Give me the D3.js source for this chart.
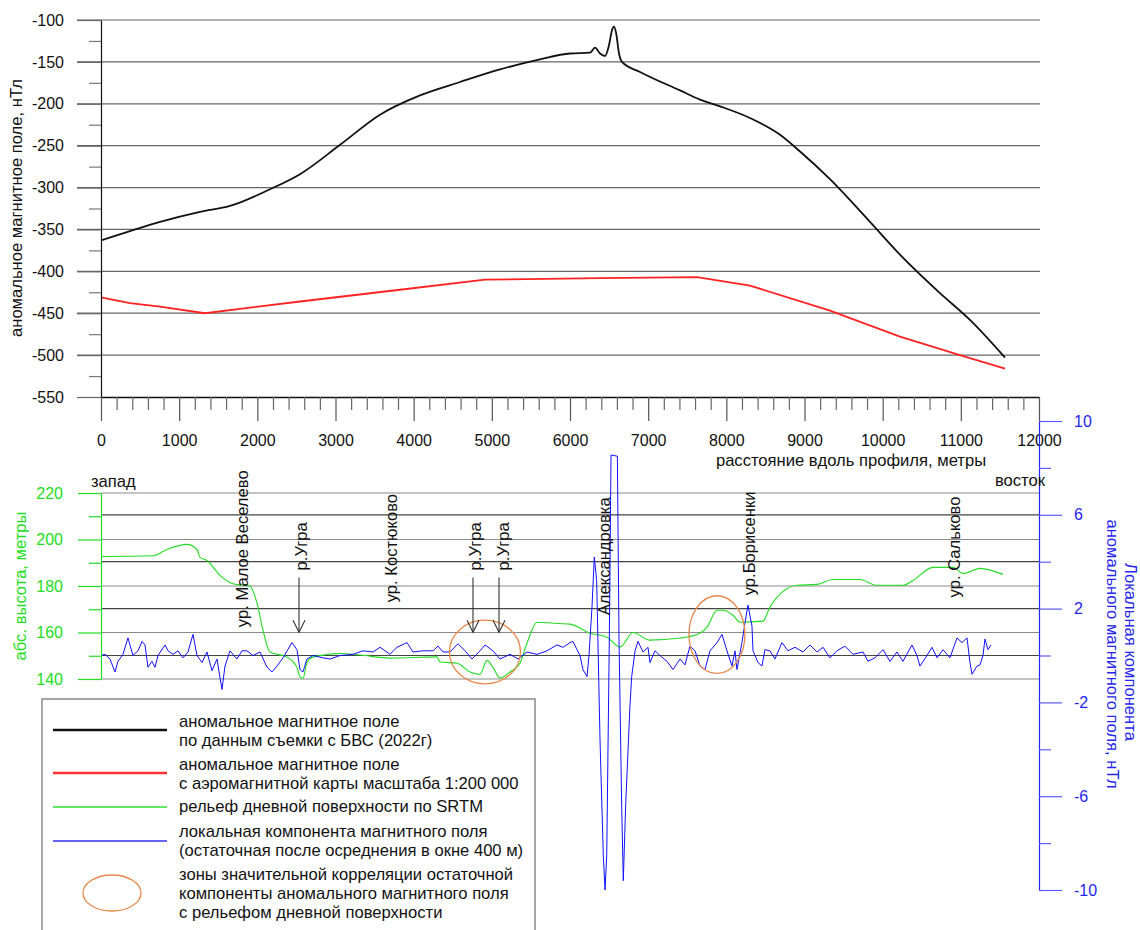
<!DOCTYPE html>
<html>
<head>
<meta charset="utf-8">
<script src="https://cdn.jsdelivr.net/npm/d3@7"></script>
<style>
  body { margin: 0; background: #fff; }
  svg { display: block; font-family: "Liberation Sans", Arial, sans-serif; }
</style>
</head>
<body>
<svg id="chart" width="1140" height="930"></svg>
<script>
// ---- data (distance along profile, m) ----
// anomalous magnetic field from UAV survey, nT
const uavField = [[0,-363],[371,-352],[755,-341],[1267,-329],[1650,-322],[2162,-302],[2546,-284],
  [3058,-249],[3569,-213],[4081,-190],[4593,-174],[5104,-159],[5616,-147],[6000,-140],[6256,-139],
  [6320,-133],[6384,-140],[6448,-143],[6499,-130],[6538,-112],[6563,-108],[6589,-115],[6627,-140],
  [6665,-150],[6896,-162],[7407,-184],[7663,-195],[7919,-203],[8303,-217],[8687,-237],[8943,-257],
  [9326,-290],[9838,-341],[10221,-380],[10733,-426],[11117,-458],[11565,-503]];

// anomalous field from 1:200 000 aeromagnetic map, nT
const mapField = [[0,-431],[371,-438],[755,-442],[1330,-450],[2546,-436],[3825,-422],[4913,-410],
  [6384,-408],[7625,-407],[8303,-417],[9326,-447],[10221,-478],[10989,-500],[11565,-516]];

// SRTM relief, m
const relief = [[0,192.7],[665,193],[844,195.7],[1100,197.9],[1228,195.7],[1267,192.3],[1356,191],
  [1522,184.6],[1689,181],[1906,180],[1996,172.6],[2072,161],[2162,151.6],[2380,149.4],[2507,145],
  [2546,141],[2584,140.2],[2635,147],[2712,149.4],[3058,151],[3314,150.3],[3697,149],[4298,149.5],
  [4337,147.3],[4554,146.8],[4721,143],[4849,142],[4938,148],[5015,145],[5104,140.4],[5232,143],
  [5360,146.8],[5450,155.4],[5578,164.4],[5783,164],[6000,163.6],[6256,159.7],[6473,158],[6640,153.7],
  [6806,160],[7023,156.7],[7407,157.6],[7663,159.7],[7753,162.3],[7881,169.6],[7957,169.6],
  [8085,167.4],[8175,164.4],[8469,164.9],[8558,170.9],[8904,180.3],[9160,180.7],[9365,182.8],
  [9710,182.8],[9927,180.3],[10260,180.3],[10388,182.4],[10644,188],[10900,188],[11028,185.4],
  [11245,187.6],[11539,185]];

// local (residual) component, nT
const localField = [[0,0.0],[51,0.05],[115,-0.15],[179,-0.7],[217,-0.25],[281,0.05],[345,0.75],
  [409,0.0],[473,0.2],[525,0.6],[563,0.45],[601,-0.5],[652,-0.25],[691,-0.5],[729,0.0],[819,0.45],
  [857,0.2],[921,0.05],[985,0.2],[1049,-0.1],[1113,0.15],[1177,0.9],[1228,0.0],[1292,-0.3],
  [1356,0.15],[1420,-0.65],[1484,-0.15],[1510,-0.7],[1548,-1.45],[1586,-0.45],[1650,0.2],
  [1740,-0.15],[1804,0.2],[1868,0.2],[1945,0.0],[2034,0.15],[2124,-0.5],[2188,-0.7],[2252,-0.45],
  [2328,-0.1],[2443,0.55],[2507,0.25],[2546,-0.6],[2584,-0.7],[2635,-0.15],[2712,0.0],[2840,-0.1],
  [2930,-0.15],[3058,0.0],[3224,0.05],[3352,0.2],[3480,0.15],[3569,0.35],[3697,0.05],[3787,0.35],
  [3915,0.55],[3991,0.15],[4119,0.2],[4247,0.2],[4311,0.4],[4375,0.15],[4465,0.15],[4567,0.5],
  [4657,0.2],[4746,-0.15],[4849,0.2],[4913,0.45],[5015,0.2],[5104,-0.15],[5232,0.05],[5335,-0.15],
  [5450,0.15],[5578,0.05],[5706,0.2],[5834,0.45],[5911,0.35],[6000,0.55],[6038,0.6],[6089,0.25],
  [6128,0.0],[6166,-0.6],[6218,-0.9],[6243,0.0],[6282,2.1],[6311,4.2],[6341,3.2],[6384,-3.6],
  [6426,-8.5],[6448,-10.0],[6470,-8.5],[6503,0.7],[6525,8.55],[6606,8.5],[6627,0.7],[6661,-6.4],
  [6682,-9.6],[6712,-6.4],[6767,-2.15],[6789,-0.9],[6832,0.2],[6870,0.6],[6934,0.15],[6998,0.35],
  [7023,-0.3],[7087,0.2],[7151,0.0],[7241,-0.25],[7318,-0.6],[7407,-0.15],[7471,-0.4],[7535,0.4],
  [7599,0.2],[7663,-0.45],[7727,-0.6],[7791,0.2],[7881,0.55],[7945,0.9],[8008,0.2],[8072,-0.45],
  [8111,0.2],[8136,-0.6],[8200,0.55],[8239,1.4],[8277,2.15],[8328,1.25],[8341,0.2],[8405,-0.3],
  [8456,-0.45],[8494,0.25],[8558,0.2],[8622,-0.15],[8712,0.55],[8789,0.2],[8878,0.35],[8981,0.15],
  [9070,0.45],[9160,0.15],[9237,0.35],[9326,-0.1],[9416,0.2],[9518,0.4],[9620,0.05],[9748,0.15],
  [9812,-0.25],[9902,-0.1],[10004,0.25],[10094,-0.25],[10183,0.15],[10260,-0.25],[10375,0.45],
  [10439,0.0],[10477,-0.45],[10567,0.0],[10631,0.35],[10695,-0.1],[10772,0.25],[10861,-0.1],
  [10951,0.75],[11015,0.55],[11079,0.75],[11117,-0.3],[11143,-0.8],[11207,-0.45],[11245,-0.4],
  [11283,0.0],[11309,0.7],[11347,0.25],[11386,0.45]];

// tick values
const magTicks = [-550,-500,-450,-400,-350,-300,-250,-200,-150,-100];
const distTicks = [0,1000,2000,3000,4000,5000,6000,7000,8000,9000,10000,11000,12000];
const elevTicks = [140,160,180,200,220];
const localTicks = [-10,-6,-2,2,6,10];

// place names: [label, distance, elevation of text start]
const places = [["ур. Малое Веселево",1804,162.3],["р.Угра",2560,186.7],["ур. Костюково",3710,173],
  ["р.Угра",4790,186.7],["р.Угра",5140,186.7],["Александровка",6435,167.4],
  ["ур.Борисенки",8290,176],["ур. Сальково",10912,175.1]];
// river arrows: distance
const riverArrows = [2533,4759,5092];
// correlation zones: [distance, elevation, half-width m, half-height m]
const zones = [[4912,151.6,454,13.7],[7880,159.1,358,16.7]];

const legendItems = [
  {type:"line", color:"#111", width:2.5, text:["аномальное магнитное поле","по данным съемки с БВС (2022г)"]},
  {type:"line", color:"#ff3333", width:2.5, text:["аномальное магнитное поле","с аэромагнитной карты масштаба 1:200 000"]},
  {type:"line", color:"#33dd33", width:1.3, text:["рельеф дневной поверхности по SRTM"]},
  {type:"line", color:"#3333ff", width:1.3, text:["локальная компонента магнитного поля","(остаточная после осреднения в окне 400 м)"]},
  {type:"ellipse", color:"#e8884a", width:1.3, text:["зоны значительной корреляции остаточной","компоненты аномального магнитного поля","с рельефом дневной поверхности"]}
];

// ---- scales ----
const svg = d3.select("#chart");
const x = d3.scaleLinear().domain([0,12000]).range([101,1039]);
const yMag = d3.scaleLinear().domain([-550,-100]).range([397,20]);
const yElev = d3.scaleLinear().domain([140,220]).range([679,493]);
const yLoc = d3.scaleLinear().domain([-10,10]).range([890,421]);

const GREEN = "#22dd22", BLUE = "#2525f0";
const FS = 16.6; // text size for titles, labels and legend

// ---- grids ----
svg.append("g").selectAll("line").data(magTicks.filter(d => d > -550)).join("line")
  .attr("x1", 77).attr("x2", x(12000) + 1)
  .attr("y1", d => yMag(d)).attr("y2", d => yMag(d))
  .attr("stroke", "#666").attr("stroke-width", 1.2);

svg.append("g").selectAll("line").data(elevTicks).join("line")
  .attr("x1", x(0)).attr("x2", x(12000))
  .attr("y1", d => yElev(d)).attr("y2", d => yElev(d))
  .attr("stroke", "#8a8a8a").attr("stroke-width", 1.2);

svg.append("g").selectAll("line").data([0,2,4,6]).join("line")
  .attr("x1", x(0)).attr("x2", x(12000))
  .attr("y1", d => yLoc(d)).attr("y2", d => yLoc(d))
  .attr("stroke", "#444").attr("stroke-width", 1.2);

// ---- curves ----
const magLine = d3.line().x(d => x(d[0])).y(d => yMag(d[1]));
svg.append("path").datum(mapField).attr("d", magLine)
  .attr("fill", "none").attr("stroke", "#ff2222").attr("stroke-width", 1.8);
svg.append("path").datum(uavField).attr("d", magLine.curve(d3.curveMonotoneX))
  .attr("fill", "none").attr("stroke", "#111").attr("stroke-width", 1.8);

svg.append("path").datum(relief)
  .attr("d", d3.line().x(d => x(d[0])).y(d => yElev(d[1])).curve(d3.curveMonotoneX))
  .attr("fill", "none").attr("stroke", GREEN).attr("stroke-width", 1.1);

svg.append("path").datum(localField)
  .attr("d", d3.line().x(d => x(d[0])).y(d => yLoc(d[1])))
  .attr("fill", "none").attr("stroke", "#1010ff").attr("stroke-width", 1);

// correlation zones
svg.append("g").selectAll("ellipse").data(zones).join("ellipse")
  .attr("cx", d => x(d[0])).attr("cy", d => yElev(d[1]))
  .attr("rx", d => x(d[0] + d[2]) - x(d[0]))
  .attr("ry", d => yElev(d[1]) - yElev(d[1] + d[3]))
  .attr("fill", "none").attr("stroke", "#e8884a").attr("stroke-width", 1.3);

// ---- axes ----
function styleAxis(g, color, tickColor) {
  g.selectAll(".domain").attr("stroke", color).attr("stroke-width", 1.2);
  g.selectAll(".tick line").attr("stroke", tickColor).attr("stroke-width", 1.2);
  g.selectAll(".tick text").attr("fill", color).attr("font-size", 16)
    .attr("font-family", "Liberation Sans, Arial, sans-serif");
}

const gMag = svg.append("g").attr("transform", `translate(${x(0)},0)`)
  .call(d3.axisLeft(yMag).tickValues(magTicks).tickSize(24).tickPadding(13)
    .tickSizeOuter(0).tickFormat(d => String(d)));
styleAxis(gMag, "#111", "#666");
const gMagMinor = svg.append("g").attr("transform", `translate(${x(0)},0)`)
  .call(d3.axisLeft(yMag).tickValues(magTicks.slice(0, -1).map(d => d + 25)).tickSize(12).tickFormat(""));
gMagMinor.select(".domain").remove();
styleAxis(gMagMinor, "#111", "#777");

const gDist = svg.append("g").attr("transform", `translate(0,${yMag(-550)})`)
  .call(d3.axisBottom(x).tickValues(distTicks).tickSize(24).tickPadding(14)
    .tickSizeOuter(0).tickFormat(d => String(d)));
styleAxis(gDist, "#111", "#555");
gDist.select(".domain").attr("stroke-width", 1.6);
const minorDist = d3.range(200, 12000, 200).filter(d => d % 1000 !== 0);
const gDistMinor = svg.append("g").attr("transform", `translate(0,${yMag(-550)})`)
  .call(d3.axisBottom(x).tickValues(minorDist).tickSize(13).tickFormat(""));
gDistMinor.select(".domain").remove();
styleAxis(gDistMinor, "#111", "#666");

const gElev = svg.append("g").attr("transform", `translate(${x(0)},0)`)
  .call(d3.axisLeft(yElev).tickValues(elevTicks).tickSize(23).tickPadding(15).tickSizeOuter(0));
styleAxis(gElev, GREEN, GREEN);
const gElevMinor = svg.append("g").attr("transform", `translate(${x(0)},0)`)
  .call(d3.axisLeft(yElev).tickValues([150,170,190,210]).tickSize(12).tickFormat(""));
gElevMinor.select(".domain").remove();
styleAxis(gElevMinor, GREEN, GREEN);

const gLoc = svg.append("g").attr("transform", `translate(${x(12000)},0)`)
  .call(d3.axisRight(yLoc).tickValues(localTicks).tickSize(23).tickPadding(12)
    .tickSizeOuter(0).tickFormat(d => String(d)));
styleAxis(gLoc, BLUE, "#5a5aff");
const gLocMinor = svg.append("g").attr("transform", `translate(${x(12000)},0)`)
  .call(d3.axisRight(yLoc).tickValues([-8,-4,0,4,8]).tickSize(12).tickFormat(""));
gLocMinor.select(".domain").remove();
styleAxis(gLocMinor, BLUE, "#5a5aff");

// ---- axis titles ----
svg.append("text").attr("transform", "translate(22,208) rotate(-90)")
  .attr("text-anchor", "middle").attr("font-size", FS).attr("fill", "#111")
  .text("аномальное магнитное поле, нТл");
svg.append("text").attr("transform", "translate(26,586) rotate(-90)")
  .attr("text-anchor", "middle").attr("font-size", FS).attr("fill", GREEN)
  .text("абс. высота, метры");
svg.append("text").attr("transform", "translate(1125,652) rotate(90)")
  .attr("text-anchor", "middle").attr("font-size", FS).attr("fill", BLUE)
  .text("Локальная компонента");
svg.append("text").attr("transform", "translate(1107,654) rotate(90)")
  .attr("text-anchor", "middle").attr("font-size", FS).attr("fill", BLUE)
  .text("аномального магнитного поля, нТл");
svg.append("text").attr("x", 851).attr("y", 466).attr("text-anchor", "middle")
  .attr("font-size", FS).attr("fill", "#111").text("расстояние вдоль профиля, метры");
svg.append("text").attr("x", x(0) - 10).attr("y", 487).attr("font-size", FS)
  .attr("fill", "#111").text("запад");
svg.append("text").attr("x", x(12000) + 6).attr("y", 486).attr("text-anchor", "end")
  .attr("font-size", FS).attr("fill", "#111").text("восток");

// ---- place names and river arrows ----
svg.append("g").selectAll("text").data(places).join("text")
  .attr("transform", d => `translate(${x(d[1])},${yElev(d[2])}) rotate(-90)`)
  .attr("dy", "0.35em").attr("font-size", FS).attr("fill", "#111")
  .text(d => d[0]);

const arrows = svg.append("g").attr("stroke", "#333").attr("stroke-width", 1.1).attr("fill", "none");
riverArrows.forEach(d => {
  const ax = x(d), top = yElev(183.7), tip = yElev(160.1);
  arrows.append("line").attr("x1", ax).attr("x2", ax).attr("y1", top).attr("y2", tip);
  arrows.append("polyline").attr("points", `${ax - 6},${tip - 12} ${ax},${tip} ${ax + 6},${tip - 12}`);
});

// ---- legend ----
const legend = svg.append("g").attr("font-size", FS).attr("fill", "#111");
legend.append("rect").attr("x", 42).attr("y", 699).attr("width", 493).attr("height", 260)
  .attr("fill", "#fff").attr("stroke", "#888").attr("stroke-width", 1.5);

const sampleY = [730, 773, 807, 841, 893];
const textY = [[727, 746], [770, 789], [812], [837, 856], [880, 899, 918]];
legendItems.forEach((item, i) => {
  if (item.type === "line") {
    legend.append("line").attr("x1", 53).attr("x2", 167)
      .attr("y1", sampleY[i]).attr("y2", sampleY[i])
      .attr("stroke", item.color).attr("stroke-width", item.width);
  } else {
    legend.append("ellipse").attr("cx", 112).attr("cy", sampleY[i]).attr("rx", 29).attr("ry", 18)
      .attr("fill", "none").attr("stroke", item.color).attr("stroke-width", item.width);
  }
  item.text.forEach((t, j) => {
    legend.append("text").attr("x", 179).attr("y", textY[i][j]).text(t);
  });
});
</script>
</body>
</html>
